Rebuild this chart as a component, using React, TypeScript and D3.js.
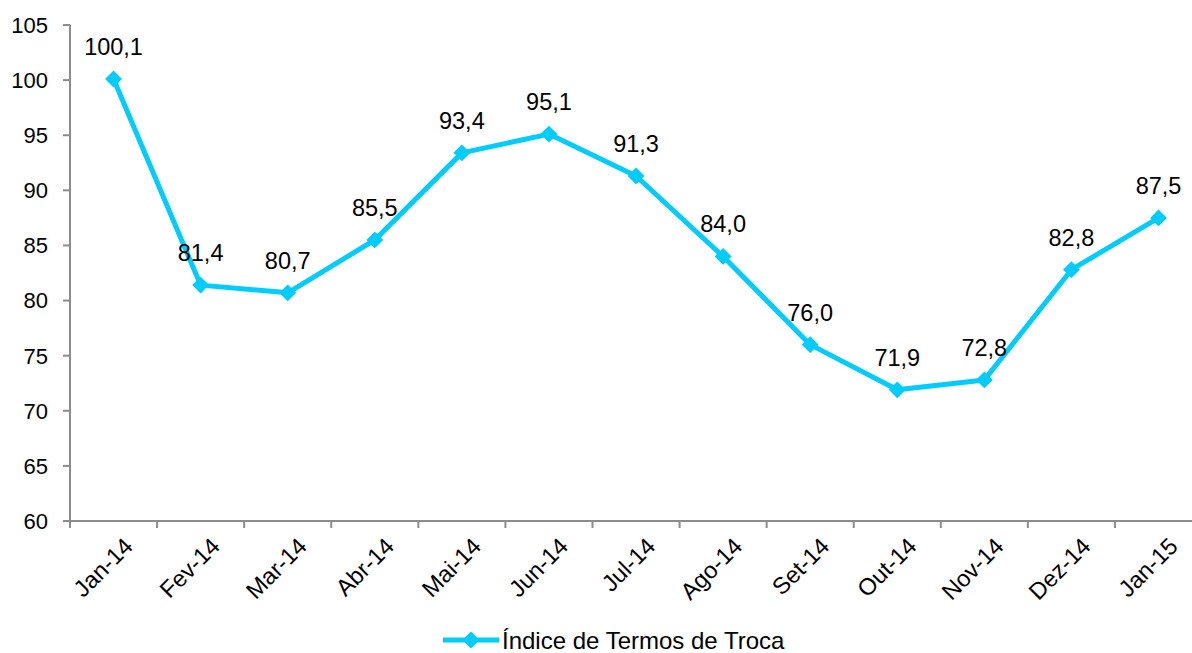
import React, { useEffect, useRef } from 'react';
import * as d3 from 'd3';

// Índice de Termos de Troca, Jan-14 a Jan-15
const months = ['Jan-14', 'Fev-14', 'Mar-14', 'Abr-14', 'Mai-14', 'Jun-14', 'Jul-14', 'Ago-14', 'Set-14', 'Out-14', 'Nov-14', 'Dez-14', 'Jan-15'];
const indexValues = [100.1, 81.4, 80.7, 85.5, 93.4, 95.1, 91.3, 84.0, 76.0, 71.9, 72.8, 82.8, 87.5];
const yTicks = [60, 65, 70, 75, 80, 85, 90, 95, 100, 105];
const seriesName = 'Índice de Termos de Troca';

const W = 1192;
const H = 653;
const LINE = '#00CCFF';
const AXIS = '#8c8c8c';
const FONT = 'Liberation Sans, Arial, sans-serif';

export default function App() {
  const svgRef = useRef<SVGSVGElement>(null);

  useEffect(() => {
    const svg = d3.select(svgRef.current);
    svg.selectAll('*').remove();

    const left = 70;
    const band = 87.08;
    const x = d3.scaleBand<string>()
      .domain(months)
      .range([left, left + band * months.length]);
    const y = d3.scaleLinear().domain([60, 105]).range([521, 25]);
    const cx = (m: string) => (x(m) as number) + x.bandwidth() / 2;

    // y axis
    const gy = svg.append('g');
    gy.append('line')
      .attr('x1', left).attr('x2', left)
      .attr('y1', y(105)).attr('y2', y(60))
      .attr('stroke', AXIS).attr('stroke-width', 2);
    gy.selectAll('.yt')
      .data(yTicks)
      .join('line')
      .attr('x1', left - 7).attr('x2', left)
      .attr('y1', d => y(d)).attr('y2', d => y(d))
      .attr('stroke', AXIS).attr('stroke-width', 2);
    gy.selectAll('text')
      .data(yTicks)
      .join('text')
      .attr('x', left - 22)
      .attr('y', d => y(d))
      .attr('dy', '0.36em')
      .attr('text-anchor', 'end')
      .attr('font-family', FONT)
      .attr('font-size', 22)
      .attr('fill', '#000')
      .text(d => d);

    // x axis
    const gx = svg.append('g');
    gx.append('line')
      .attr('x1', left).attr('x2', left + band * months.length)
      .attr('y1', y(60)).attr('y2', y(60))
      .attr('stroke', AXIS).attr('stroke-width', 2);
    gx.selectAll('.xt')
      .data(d3.range(months.length + 1))
      .join('line')
      .attr('x1', i => left + i * band).attr('x2', i => left + i * band)
      .attr('y1', y(60)).attr('y2', y(60) + 7)
      .attr('stroke', AXIS).attr('stroke-width', 2);
    gx.selectAll('text')
      .data(months)
      .join('text')
      .attr('transform', d => `translate(${cx(d) + 9},${y(60) + 15}) rotate(-45)`)
      .attr('text-anchor', 'end')
      .attr('dy', '0.7em')
      .attr('font-family', FONT)
      .attr('font-size', 23.5)
      .attr('fill', '#000')
      .text(d => d);

    // line
    const line = d3.line<number>()
      .x((_, i) => cx(months[i]))
      .y(d => y(d));
    svg.append('path')
      .datum(indexValues)
      .attr('d', line)
      .attr('fill', 'none')
      .attr('stroke', LINE)
      .attr('stroke-width', 5)
      .attr('stroke-linejoin', 'round');

    const diamond = d3.symbol().type(d3.symbolDiamond2).size(180);
    svg.selectAll('.pt')
      .data(indexValues)
      .join('path')
      .attr('d', diamond)
      .attr('transform', (d, i) => `translate(${cx(months[i])},${y(d)})`)
      .attr('fill', LINE);

    // value labels
    svg.selectAll('.lbl')
      .data(indexValues)
      .join('text')
      .attr('x', (_, i) => cx(months[i]))
      .attr('y', d => y(d) - 24)
      .attr('text-anchor', 'middle')
      .attr('font-family', FONT)
      .attr('font-size', 23.5)
      .attr('fill', '#000')
      .text(d => d.toFixed(1).replace('.', ','));

    // legend
    const lg = svg.append('g').attr('transform', 'translate(443,640)');
    lg.append('line')
      .attr('x1', 0).attr('x2', 56)
      .attr('stroke', LINE).attr('stroke-width', 5);
    lg.append('path')
      .attr('d', diamond)
      .attr('transform', 'translate(28,0)')
      .attr('fill', LINE);
    lg.append('text')
      .attr('x', 59)
      .attr('dy', '0.36em')
      .attr('font-family', FONT)
      .attr('font-size', 24)
      .attr('fill', '#000')
      .text(seriesName);
  }, []);

  return (
    <svg
      ref={svgRef}
      width={W}
      height={H}
      style={{ position: 'absolute', left: 0, top: 0, background: '#fff' }}
    />
  );
}
